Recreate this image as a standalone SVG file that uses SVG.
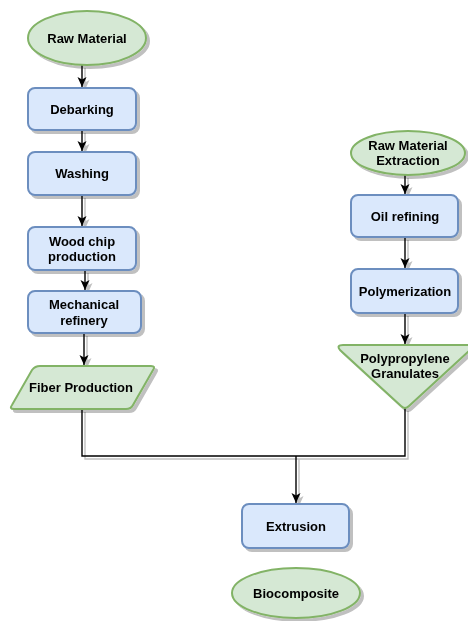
<svg xmlns="http://www.w3.org/2000/svg" width="468" height="621" viewBox="0 0 468 621">
  <defs>
    <marker id="arrow" viewBox="0 0 10 10" refX="10" refY="5" markerWidth="10" markerHeight="10" markerUnits="userSpaceOnUse" orient="auto">
      <path d="M0,0.5 L10,5 L0,9.5 L2.5,5 Z" fill="#000"/>
    </marker>
    <filter id="shadow" x="-20%" y="-20%" width="150%" height="150%">
      <feOffset in="SourceAlpha" dx="3" dy="3" result="off"/>
      <feComponentTransfer in="off" result="sh"><feFuncA type="linear" slope="0.25"/></feComponentTransfer>
      <feMerge><feMergeNode in="sh"/><feMergeNode in="SourceGraphic"/></feMerge>
    </filter>
  </defs>
  <style>
    .proc { fill: #dae8fc; stroke: #6c8ebf; stroke-width: 2; }
    .term { fill: #d5e8d4; stroke: #82b366; stroke-width: 2; }
    .lbl { font-family: "Liberation Sans", Arial, sans-serif; font-size: 13px; font-weight: bold; fill: #000; text-anchor: middle; dominant-baseline: central; }
    .edge { fill: none; stroke: #000; stroke-width: 1.4; }
  </style>
  <rect width="468" height="621" fill="#fff"/>

  <g id="connectors" filter="url(#shadow)">
    <path class="edge" d="M82,65 V87" marker-end="url(#arrow)"/>
    <path class="edge" d="M82,130 V151" marker-end="url(#arrow)"/>
    <path class="edge" d="M82,195 V226" marker-end="url(#arrow)"/>
    <path class="edge" d="M85,270 V290" marker-end="url(#arrow)"/>
    <path class="edge" d="M84,333 V365" marker-end="url(#arrow)"/>
    <path class="edge" d="M405,175 V194" marker-end="url(#arrow)"/>
    <path class="edge" d="M405,237 V268" marker-end="url(#arrow)"/>
    <path class="edge" d="M405,313 V344" marker-end="url(#arrow)"/>
    <path class="edge" d="M82,409 V456 H405 V408"/>
    <path class="edge" d="M296,456 V503" marker-end="url(#arrow)"/>
  </g>

  <g id="raw-material" filter="url(#shadow)">
    <ellipse class="term" cx="87" cy="38" rx="59" ry="27"/>
    <text class="lbl" x="87" y="38">Raw Material</text>
  </g>
  <g id="debarking" filter="url(#shadow)">
    <rect class="proc" x="28" y="88" width="108" height="42" rx="7"/>
    <text class="lbl" x="82" y="109">Debarking</text>
  </g>
  <g id="washing" filter="url(#shadow)">
    <rect class="proc" x="28" y="152" width="108" height="43" rx="7"/>
    <text class="lbl" x="82" y="173">Washing</text>
  </g>
  <g id="wood-chip" filter="url(#shadow)">
    <rect class="proc" x="28" y="227" width="108" height="43" rx="7"/>
    <text class="lbl" x="82" y="241">Wood chip</text>
    <text class="lbl" x="82" y="256">production</text>
  </g>
  <g id="mechanical-refinery" filter="url(#shadow)">
    <rect class="proc" x="28" y="291" width="113" height="42" rx="7"/>
    <text class="lbl" x="84" y="304">Mechanical</text>
    <text class="lbl" x="84" y="320">refinery</text>
  </g>
  <g id="fiber-production" filter="url(#shadow)">
    <path class="term" d="M40,366 H151 Q156,366 153,370 L133,405 Q131,409 126,409 H14 Q9,409 12,405 L32,370 Q35,366 40,366 Z"/>
    <text class="lbl" x="81" y="387">Fiber Production</text>
  </g>

  <g id="raw-material-extraction" filter="url(#shadow)">
    <ellipse class="term" cx="408" cy="153" rx="57" ry="22"/>
    <text class="lbl" x="408" y="145">Raw Material</text>
    <text class="lbl" x="408" y="160">Extraction</text>
  </g>
  <g id="oil-refining" filter="url(#shadow)">
    <rect class="proc" x="351" y="195" width="107" height="42" rx="7"/>
    <text class="lbl" x="405" y="216">Oil refining</text>
  </g>
  <g id="polymerization" filter="url(#shadow)">
    <rect class="proc" x="351" y="269" width="107" height="44" rx="7"/>
    <text class="lbl" x="405" y="291">Polymerization</text>
  </g>
  <g id="polypropylene" filter="url(#shadow)">
    <path class="term" d="M343,345 H467 Q474,345 470,350 L409,406 Q405,410 401,406 L340,350 Q336,345 343,345 Z"/>
    <text class="lbl" x="405" y="358">Polypropylene</text>
    <text class="lbl" x="405" y="373">Granulates</text>
  </g>

  <g id="extrusion" filter="url(#shadow)">
    <rect class="proc" x="242" y="504" width="107" height="44" rx="7"/>
    <text class="lbl" x="296" y="526">Extrusion</text>
  </g>
  <g id="biocomposite" filter="url(#shadow)">
    <ellipse class="term" cx="296" cy="593" rx="64" ry="25"/>
    <text class="lbl" x="296" y="593">Biocomposite</text>
  </g>
</svg>
